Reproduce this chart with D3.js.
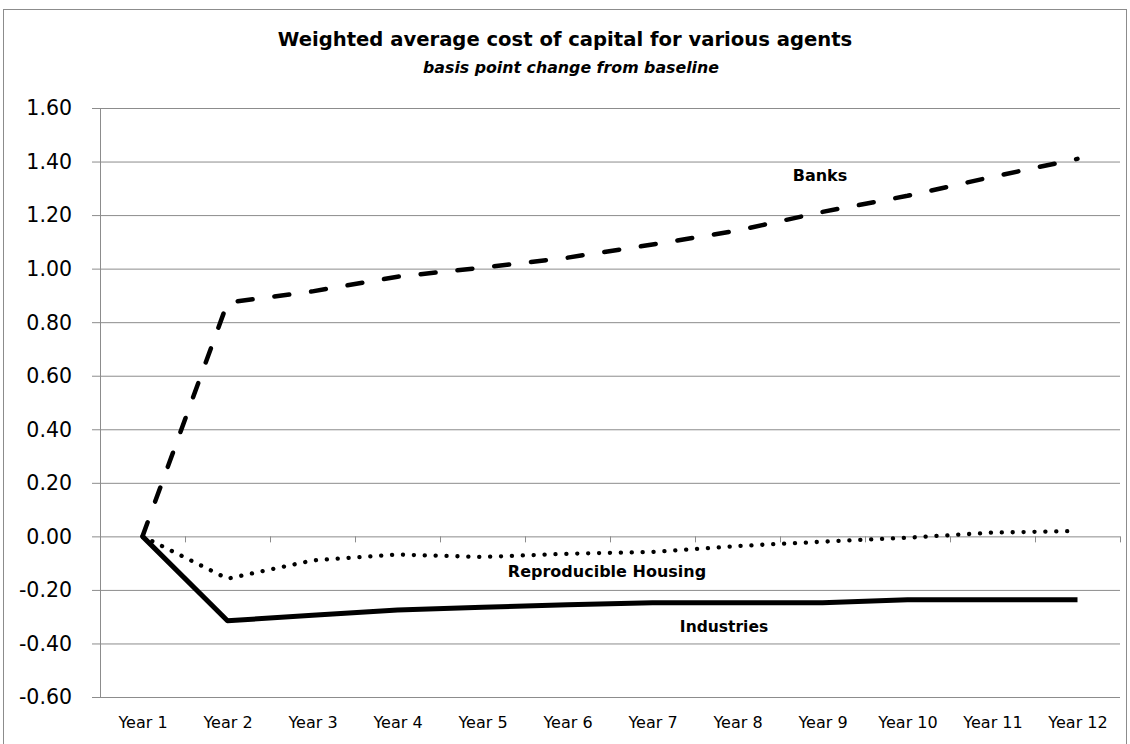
<!DOCTYPE html>
<html>
<head>
<meta charset="utf-8">
<script src="https://cdn.jsdelivr.net/npm/d3@7"></script>
<style>
  body { margin: 0; background: #fff; }
  svg { display: block; font-family: "DejaVu Sans", sans-serif; }
  .grid line { stroke: #8c8c8c; stroke-width: 1; }
  .grid path { display: none; }
</style>
</head>
<body>
<div id="chart"></div>
<script>
// data
var years = ["Year 1", "Year 2", "Year 3", "Year 4", "Year 5", "Year 6",
             "Year 7", "Year 8", "Year 9", "Year 10", "Year 11", "Year 12"];
var banks = [0, 0.873, 0.915, 0.970, 1.004, 1.041, 1.090, 1.142, 1.212, 1.272, 1.343, 1.410];
var housing = [0, -0.158, -0.090, -0.068, -0.077, -0.065, -0.058, -0.036, -0.020, -0.005, 0.014, 0.020];
var industries = [0, -0.315, -0.295, -0.275, -0.265, -0.255, -0.248, -0.248, -0.248, -0.237, -0.237, -0.237];
var yTicks = [-0.6, -0.4, -0.2, 0, 0.2, 0.4, 0.6, 0.8, 1.0, 1.2, 1.4, 1.6];

var W = 1130, H = 744;
var margin = { top: 108, right: 10, bottom: 47, left: 100 },
  width = W - margin.left - margin.right,
  height = H - margin.top - margin.bottom;

var svg = d3.select("#chart")
  .append("svg")
  .attr("width", W)
  .attr("height", H);

// chart border
svg.append("rect")
  .attr("x", 3.5).attr("y", 9.5)
  .attr("width", 1123).attr("height", 745)
  .attr("fill", "none")
  .attr("stroke", "#8c8c8c")
  .attr("stroke-width", 1);

// title
svg.append("text")
  .attr("x", 565).attr("y", 46)
  .attr("text-anchor", "middle")
  .style("font-weight", "bold")
  .style("font-size", "19.6px")
  .text("Weighted average cost of capital for various agents");

svg.append("text")
  .attr("x", 571).attr("y", 73)
  .attr("text-anchor", "middle")
  .style("font-weight", "bold")
  .style("font-style", "italic")
  .style("font-size", "15.8px")
  .text("basis point change from baseline");

var g = svg.append("g")
  .attr("transform", "translate(" + margin.left + "," + margin.top + ")");

var x = d3.scalePoint()
  .domain(years)
  .range([0, width])
  .padding(0.5);

var xb = d3.scaleBand()
  .domain(years)
  .range([0, width]);

var y = d3.scaleLinear()
  .domain([-0.6, 1.6])
  .range([height, 0]);

// horizontal gridlines (with the small outside ticks)
g.append("g")
  .attr("class", "grid")
  .attr("transform", "translate(-8,0)")
  .call(d3.axisLeft(y)
    .tickValues(yTicks)
    .tickSize(-(width + 8))
    .tickFormat(""));

// y labels (plain hyphen for the minus sign, as in the original)
var fmt = function (d) { return d3.format(".2f")(d).replace("\u2212", "-"); };

g.append("g")
  .selectAll("text")
  .data(yTicks)
  .join("text")
  .attr("x", -28)
  .attr("y", function (d) { return y(d); })
  .attr("dy", "0.36em")
  .attr("text-anchor", "end")
  .style("font-size", "20.5px")
  .text(fmt);

// vertical axis line
g.append("line")
  .attr("x1", 0.5).attr("x2", 0.5)
  .attr("y1", 0).attr("y2", height)
  .attr("stroke", "#8c8c8c");

// category axis at zero, ticks between categories
g.append("g")
  .selectAll("line")
  .data(years)
  .join("line")
  .attr("x1", function (d) { return Math.round(xb(d) + xb.bandwidth()) + 0.5; })
  .attr("x2", function (d) { return Math.round(xb(d) + xb.bandwidth()) + 0.5; })
  .attr("y1", y(0))
  .attr("y2", y(0) + 6)
  .attr("stroke", "#8c8c8c");

// category labels at the bottom
g.append("g")
  .attr("transform", "translate(0," + height + ")")
  .call(d3.axisBottom(x).tickSize(0).tickPadding(20))
  .call(function (a) { a.select(".domain").remove(); })
  .selectAll("text")
  .attr("fill", "#000")
  .style("font-family", "DejaVu Sans")
  .style("font-size", "16px");

var line = d3.line()
  .x(function (d, i) { return x(years[i]); })
  .y(function (d) { return y(d); });

g.append("path")
  .datum(banks)
  .attr("fill", "none")
  .attr("stroke", "#000")
  .attr("stroke-width", 4.5)
  .attr("stroke-linecap", "round")
  .attr("stroke-dasharray", "15,22")
  .attr("d", line);

g.append("path")
  .datum(housing)
  .attr("fill", "none")
  .attr("stroke", "#000")
  .attr("stroke-width", 4.3)
  .attr("stroke-linecap", "round")
  .attr("stroke-dasharray", "0.1,10.8")
  .attr("d", line);

g.append("path")
  .datum(industries)
  .attr("fill", "none")
  .attr("stroke", "#000")
  .attr("stroke-width", 5)
  .attr("stroke-linejoin", "round")
  .attr("d", line);

// series labels
svg.append("text")
  .attr("x", 820).attr("y", 181)
  .attr("text-anchor", "middle")
  .style("font-weight", "bold")
  .style("font-size", "16px")
  .text("Banks");

svg.append("text")
  .attr("x", 607).attr("y", 577)
  .attr("text-anchor", "middle")
  .style("font-weight", "bold")
  .style("font-size", "16px")
  .text("Reproducible Housing");

svg.append("text")
  .attr("x", 724).attr("y", 632)
  .attr("text-anchor", "middle")
  .style("font-weight", "bold")
  .style("font-size", "15.5px")
  .text("Industries");
</script>
</body>
</html>
